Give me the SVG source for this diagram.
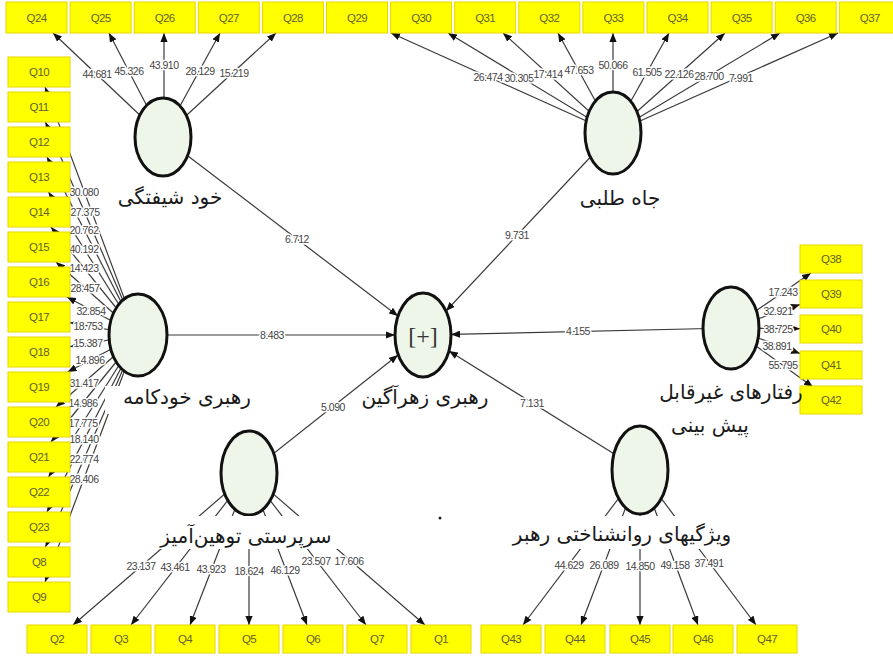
<svg xmlns="http://www.w3.org/2000/svg" width="893" height="656" viewBox="0 0 893 656">
<style>
.c{stroke:#3a3a3a;stroke-width:1.2;fill:none;marker-end:url(#ah)}
.n{font-family:"Liberation Sans",Arial,sans-serif;font-size:10.5px;letter-spacing:-0.5px;fill:#444;text-anchor:middle;stroke:#fff;stroke-width:3;paint-order:stroke;stroke-linejoin:round}
.q rect{fill:#ffff00;stroke:#e6d600;stroke-width:1}
.q text{font-family:"Liberation Sans",Arial,sans-serif;font-size:11.5px;letter-spacing:-0.6px;fill:#5f5f32;text-anchor:middle}
.lv ellipse{fill:#eef6ea;stroke:#111;stroke-width:3}
.lbl{font-family:"DejaVu Sans",sans-serif;font-size:20px;fill:#1a1a1a;text-anchor:middle}
.bg{fill:#fff}
</style>
<defs>
<marker id="ah" viewBox="0 0 10 8" refX="10" refY="4" markerWidth="9" markerHeight="7.2" orient="auto" markerUnits="userSpaceOnUse"><path d="M0,0 L10,4 L0,8 z" fill="#111"/></marker>
</defs>
<rect width="893" height="656" fill="#fff"/>
<g id="connectors">
<line class="c" x1="163" y1="137" x2="53" y2="33"/>
<line class="c" x1="163" y1="137" x2="109" y2="33"/>
<line class="c" x1="164" y1="137" x2="164" y2="33"/>
<line class="c" x1="163" y1="137" x2="220" y2="33"/>
<line class="c" x1="163" y1="137" x2="276" y2="33"/>
<line class="c" x1="613" y1="133" x2="391" y2="33"/>
<line class="c" x1="613" y1="133" x2="448" y2="33"/>
<line class="c" x1="613" y1="133" x2="503" y2="33"/>
<line class="c" x1="613" y1="133" x2="558" y2="33"/>
<line class="c" x1="613" y1="133" x2="613" y2="33"/>
<line class="c" x1="613" y1="133" x2="669" y2="33"/>
<line class="c" x1="613" y1="133" x2="725" y2="33"/>
<line class="c" x1="613" y1="133" x2="780" y2="33"/>
<line class="c" x1="613" y1="133" x2="838" y2="33"/>
<line class="c" x1="138" y1="335" x2="45" y2="87"/>
<line class="c" x1="138" y1="335" x2="45.5" y2="122"/>
<line class="c" x1="138" y1="335" x2="47" y2="157"/>
<line class="c" x1="138" y1="335" x2="48.5" y2="192"/>
<line class="c" x1="138" y1="335" x2="51" y2="227"/>
<line class="c" x1="138" y1="335" x2="56" y2="262"/>
<line class="c" x1="138" y1="335" x2="67" y2="297"/>
<line class="c" x1="138" y1="335" x2="70" y2="322.6"/>
<line class="c" x1="138" y1="335" x2="70" y2="346.7"/>
<line class="c" x1="138" y1="335" x2="67.6" y2="372"/>
<line class="c" x1="138" y1="335" x2="56" y2="407"/>
<line class="c" x1="138" y1="335" x2="51" y2="442"/>
<line class="c" x1="138" y1="335" x2="48.5" y2="477"/>
<line class="c" x1="138" y1="335" x2="47" y2="512"/>
<line class="c" x1="138" y1="335" x2="45.5" y2="547"/>
<line class="c" x1="138" y1="335" x2="45" y2="582"/>
<line class="c" x1="731" y1="328" x2="811" y2="273"/>
<line class="c" x1="731" y1="328" x2="800" y2="304.5"/>
<line class="c" x1="731" y1="328" x2="800" y2="328.7"/>
<line class="c" x1="731" y1="328" x2="800" y2="353.5"/>
<line class="c" x1="731" y1="328" x2="813" y2="387"/>
<line class="c" x1="249" y1="473" x2="73" y2="625"/>
<line class="c" x1="249" y1="473" x2="131" y2="625"/>
<line class="c" x1="249" y1="473" x2="190" y2="625"/>
<line class="c" x1="249" y1="473" x2="249" y2="625"/>
<line class="c" x1="249" y1="473" x2="307" y2="625"/>
<line class="c" x1="249" y1="473" x2="366" y2="625"/>
<line class="c" x1="249" y1="473" x2="425" y2="625"/>
<line class="c" x1="640" y1="470" x2="523" y2="625"/>
<line class="c" x1="640" y1="470" x2="581" y2="625"/>
<line class="c" x1="640" y1="470" x2="640" y2="625"/>
<line class="c" x1="640" y1="470" x2="698" y2="625"/>
<line class="c" x1="640" y1="470" x2="756" y2="625"/>
<line class="c" x1="163" y1="137" x2="398" y2="316"/>
<line class="c" x1="613" y1="133" x2="446" y2="311"/>
<line class="c" x1="138" y1="335" x2="395" y2="335"/>
<line class="c" x1="731" y1="328" x2="451" y2="334.4"/>
<line class="c" x1="249" y1="473" x2="398" y2="355"/>
<line class="c" x1="640" y1="470" x2="449" y2="351"/>
<text class="n" x="97" y="78">44.681</text>
<text class="n" x="129" y="75">45.326</text>
<text class="n" x="164" y="69">43.910</text>
<text class="n" x="200" y="75">28.129</text>
<text class="n" x="234" y="77">15.219</text>
<text class="n" x="488" y="81">26.474</text>
<text class="n" x="519" y="82">30.305</text>
<text class="n" x="548" y="78">17.414</text>
<text class="n" x="579" y="74">47.653</text>
<text class="n" x="613" y="69">50.066</text>
<text class="n" x="647" y="76">61.505</text>
<text class="n" x="679" y="78">22.126</text>
<text class="n" x="709" y="80">28.700</text>
<text class="n" x="741" y="82">7.991</text>
<text class="n" x="84" y="196">30.080</text>
<text class="n" x="85" y="216">27.375</text>
<text class="n" x="84" y="234">20.762</text>
<text class="n" x="84" y="253">40.192</text>
<text class="n" x="84" y="272">14.423</text>
<text class="n" x="85" y="292">28.457</text>
<text class="n" x="91" y="315">32.854</text>
<text class="n" x="88" y="330">18.753</text>
<text class="n" x="88" y="347">15.387</text>
<text class="n" x="90" y="364">14.896</text>
<text class="n" x="84" y="387">31.417</text>
<text class="n" x="83" y="407">14.986</text>
<text class="n" x="83" y="427">17.775</text>
<text class="n" x="84" y="443">18.140</text>
<text class="n" x="84" y="463">22.774</text>
<text class="n" x="84" y="483">28.406</text>
<text class="n" x="783" y="296">17.243</text>
<text class="n" x="778" y="315">32.921</text>
<text class="n" x="778" y="333">38.725</text>
<text class="n" x="777" y="350">38.891</text>
<text class="n" x="783" y="369">55.795</text>
<text class="n" x="141" y="570">23.137</text>
<text class="n" x="175" y="571">43.461</text>
<text class="n" x="211" y="573">43.923</text>
<text class="n" x="249" y="575">18.624</text>
<text class="n" x="285" y="574">46.129</text>
<text class="n" x="316" y="565">23.507</text>
<text class="n" x="349" y="565">17.606</text>
<text class="n" x="569" y="569">44.629</text>
<text class="n" x="604" y="569">26.089</text>
<text class="n" x="640" y="570">14.850</text>
<text class="n" x="675" y="569">49.158</text>
<text class="n" x="709" y="567">37.491</text>
<text class="n" x="297" y="243">6.712</text>
<text class="n" x="517" y="239">9.731</text>
<text class="n" x="272" y="339">8.483</text>
<text class="n" x="578" y="335">4.155</text>
<text class="n" x="333" y="411">5.090</text>
<text class="n" x="532" y="407">7.131</text>
</g>
<g id="Q24" class="q"><rect x="6" y="2" width="61" height="31"/><text x="36.5" y="21.5">Q24</text></g>
<g id="Q25" class="q"><rect x="70.1" y="2" width="61" height="31"/><text x="100.6" y="21.5">Q25</text></g>
<g id="Q26" class="q"><rect x="134.2" y="2" width="61" height="31"/><text x="164.7" y="21.5">Q26</text></g>
<g id="Q27" class="q"><rect x="198.3" y="2" width="61" height="31"/><text x="228.8" y="21.5">Q27</text></g>
<g id="Q28" class="q"><rect x="262.4" y="2" width="61" height="31"/><text x="292.9" y="21.5">Q28</text></g>
<g id="Q29" class="q"><rect x="326.5" y="2" width="61" height="31"/><text x="357" y="21.5">Q29</text></g>
<g id="Q30" class="q"><rect x="390.6" y="2" width="61" height="31"/><text x="421.1" y="21.5">Q30</text></g>
<g id="Q31" class="q"><rect x="454.7" y="2" width="61" height="31"/><text x="485.2" y="21.5">Q31</text></g>
<g id="Q32" class="q"><rect x="518.8" y="2" width="61" height="31"/><text x="549.3" y="21.5">Q32</text></g>
<g id="Q33" class="q"><rect x="582.9" y="2" width="61" height="31"/><text x="613.4" y="21.5">Q33</text></g>
<g id="Q34" class="q"><rect x="647" y="2" width="61" height="31"/><text x="677.5" y="21.5">Q34</text></g>
<g id="Q35" class="q"><rect x="711.1" y="2" width="61" height="31"/><text x="741.6" y="21.5">Q35</text></g>
<g id="Q36" class="q"><rect x="775.2" y="2" width="61" height="31"/><text x="805.7" y="21.5">Q36</text></g>
<g id="Q37" class="q"><rect x="839.3" y="2" width="61" height="31"/><text x="869.8" y="21.5">Q37</text></g>
<g id="Q10" class="q"><rect x="8" y="57" width="62" height="30"/><text x="39" y="76">Q10</text></g>
<g id="Q11" class="q"><rect x="8" y="92" width="62" height="30"/><text x="39" y="111">Q11</text></g>
<g id="Q12" class="q"><rect x="8" y="127" width="62" height="30"/><text x="39" y="146">Q12</text></g>
<g id="Q13" class="q"><rect x="8" y="162" width="62" height="30"/><text x="39" y="181">Q13</text></g>
<g id="Q14" class="q"><rect x="8" y="197" width="62" height="30"/><text x="39" y="216">Q14</text></g>
<g id="Q15" class="q"><rect x="8" y="232" width="62" height="30"/><text x="39" y="251">Q15</text></g>
<g id="Q16" class="q"><rect x="8" y="267" width="62" height="30"/><text x="39" y="286">Q16</text></g>
<g id="Q17" class="q"><rect x="8" y="302" width="62" height="30"/><text x="39" y="321">Q17</text></g>
<g id="Q18" class="q"><rect x="8" y="337" width="62" height="30"/><text x="39" y="356">Q18</text></g>
<g id="Q19" class="q"><rect x="8" y="372" width="62" height="30"/><text x="39" y="391">Q19</text></g>
<g id="Q20" class="q"><rect x="8" y="407" width="62" height="30"/><text x="39" y="426">Q20</text></g>
<g id="Q21" class="q"><rect x="8" y="442" width="62" height="30"/><text x="39" y="461">Q21</text></g>
<g id="Q22" class="q"><rect x="8" y="477" width="62" height="30"/><text x="39" y="496">Q22</text></g>
<g id="Q23" class="q"><rect x="8" y="512" width="62" height="30"/><text x="39" y="531">Q23</text></g>
<g id="Q8" class="q"><rect x="8" y="547" width="62" height="30"/><text x="39" y="566">Q8</text></g>
<g id="Q9" class="q"><rect x="8" y="582" width="62" height="30"/><text x="39" y="601">Q9</text></g>
<g id="Q38" class="q"><rect x="800" y="245" width="62" height="28"/><text x="831" y="263">Q38</text></g>
<g id="Q39" class="q"><rect x="800" y="280" width="62" height="28"/><text x="831" y="298">Q39</text></g>
<g id="Q40" class="q"><rect x="800" y="315" width="62" height="28"/><text x="831" y="333">Q40</text></g>
<g id="Q41" class="q"><rect x="800" y="351" width="62" height="28"/><text x="831" y="369">Q41</text></g>
<g id="Q42" class="q"><rect x="800" y="386" width="62" height="28"/><text x="831" y="404">Q42</text></g>
<g id="Q2" class="q"><rect x="27" y="625" width="60" height="28"/><text x="57" y="643">Q2</text></g>
<g id="Q3" class="q"><rect x="91" y="625" width="60" height="28"/><text x="121" y="643">Q3</text></g>
<g id="Q4" class="q"><rect x="155" y="625" width="60" height="28"/><text x="185" y="643">Q4</text></g>
<g id="Q5" class="q"><rect x="219" y="625" width="60" height="28"/><text x="249" y="643">Q5</text></g>
<g id="Q6" class="q"><rect x="283" y="625" width="60" height="28"/><text x="313" y="643">Q6</text></g>
<g id="Q7" class="q"><rect x="347" y="625" width="60" height="28"/><text x="377" y="643">Q7</text></g>
<g id="Q1" class="q"><rect x="411" y="625" width="60" height="28"/><text x="441" y="643">Q1</text></g>
<g id="Q43" class="q"><rect x="481" y="625" width="60" height="28"/><text x="511" y="643">Q43</text></g>
<g id="Q44" class="q"><rect x="545" y="625" width="60" height="28"/><text x="575" y="643">Q44</text></g>
<g id="Q45" class="q"><rect x="610" y="625" width="60" height="28"/><text x="640" y="643">Q45</text></g>
<g id="Q46" class="q"><rect x="673" y="625" width="60" height="28"/><text x="703" y="643">Q46</text></g>
<g id="Q47" class="q"><rect x="737" y="625" width="60" height="28"/><text x="767" y="643">Q47</text></g>
<g id="narcissism" class="lv"><ellipse cx="163" cy="137" rx="28" ry="39"/><text class="lbl" x="170" y="204">خود شیفتگی</text></g>
<g id="ambition" class="lv"><ellipse cx="613" cy="133" rx="28" ry="41"/><text class="lbl" x="620" y="205">جاه طلبی</text></g>
<g id="autocratic" class="lv"><ellipse cx="138" cy="335" rx="29" ry="41"/><rect class="bg" x="105" y="386" width="160" height="28"/><text class="lbl" x="187" y="404">رهبری خودکامه</text></g>
<g id="toxic" class="lv"><ellipse cx="423" cy="335" rx="28" ry="42"/><text x="423" y="344" font-family="Liberation Serif,serif" font-size="24" text-anchor="middle" fill="#333">[+]</text><text class="lbl" x="425" y="404">رهبری زهرآگین</text></g>
<g id="unpredictable" class="lv"><ellipse cx="731" cy="328" rx="28" ry="41"/><text class="lbl" x="731" y="399" font-size="19">رفتارهای غیرقابل</text><text class="lbl" x="710" y="432">پیش بینی</text></g>
<g id="abusive" class="lv"><ellipse cx="249" cy="473" rx="28" ry="42"/><rect class="bg" x="150" y="516" width="192" height="33"/><text class="lbl" x="246" y="543">سرپرستی توهین‌آمیز</text></g>
<g id="psych" class="lv"><ellipse cx="640" cy="470" rx="28" ry="44"/><rect class="bg" x="505" y="516" width="235" height="33"/><text class="lbl" x="622" y="541">ویژگیهای روانشناختی رهبر</text></g>
<circle cx="440" cy="518" r="1.5" fill="#222"/>
</svg>
